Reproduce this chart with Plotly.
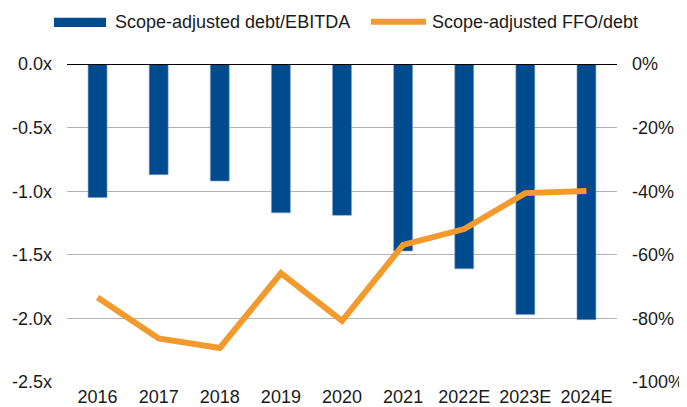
import plotly.graph_objects as go

years = ["2016", "2017", "2018", "2019", "2020", "2021", "2022E", "2023E", "2024E"]
debt_ebitda = [-1.05, -0.87, -0.92, -1.17, -1.19, -1.47, -1.61, -1.97, -2.01]
ffo_debt = [-73.4, -86.3, -89.3, -65.8, -80.8, -56.9, -51.9, -40.6, -39.9]
left_ticks = [0.0, -0.5, -1.0, -1.5, -2.0, -2.5]
right_ticks = [0, -20, -40, -60, -80, -100]

blue = "#004B8D"
orange = "#F39A2C"
font = dict(family="Liberation Sans, Arial, sans-serif", size=18, color="#1a1a1a")

fig = go.Figure()
fig.add_trace(go.Bar(x=years, y=debt_ebitda, name="Scope-adjusted debt/EBITDA",
                     marker=dict(color=blue, line=dict(color="#7fa3c8", width=0.6)),
                     yaxis="y"))
fig.add_trace(go.Scatter(x=years, y=ffo_debt, name="Scope-adjusted FFO/debt",
                         mode="lines", line=dict(color=orange, width=6),
                         yaxis="y2"))

# zero line
fig.add_shape(type="line", xref="paper", yref="y", x0=0, x1=1, y0=0, y1=0,
              line=dict(color="black", width=2), layer="above")

# manual legend
fig.add_shape(type="rect", xref="paper", yref="paper", x0=-0.0236, x1=0.0709,
              y0=1.1164, y1=1.1456, fillcolor=blue, line=dict(width=0))
fig.add_annotation(xref="paper", yref="paper", x=0.0831, y=1.133, text="Scope-adjusted debt/EBITDA",
                   showarrow=False, xanchor="left", yanchor="middle", font=font)
fig.add_shape(type="line", xref="paper", yref="paper", x0=0.5527, x1=0.6527,
              y0=1.133, y1=1.133, line=dict(color=orange, width=6))
fig.add_annotation(xref="paper", yref="paper", x=0.66, y=1.133, text="Scope-adjusted FFO/debt",
                   showarrow=False, xanchor="left", yanchor="middle", font=font)

fig.update_layout(
    width=679, height=399,
    margin=dict(l=59, r=70, t=56, b=25, autoexpand=False),
    paper_bgcolor="white", plot_bgcolor="white",
    showlegend=False,
    bargap=0.69,
    font=font,
    xaxis=dict(showgrid=False, showline=False, ticks="", tickfont=font, automargin=False,
               ticklabelstandoff=2),
    yaxis=dict(range=[-2.5, 0], tickvals=left_ticks, ticktext=[f"{v:.1f}x" for v in left_ticks],
               showgrid=True, gridcolor="#b3b3b3", gridwidth=1.3, zeroline=False,
               showline=False, ticks="", tickfont=font, automargin=False, ticklabelstandoff=14),
    yaxis2=dict(range=[-100, 0], tickvals=right_ticks, ticktext=[f"{v}%" for v in right_ticks],
                overlaying="y", side="right", showgrid=False, zeroline=False,
                showline=False, ticks="", tickfont=font, automargin=False, ticklabelstandoff=14),
)

fig.write_html("out.html")
